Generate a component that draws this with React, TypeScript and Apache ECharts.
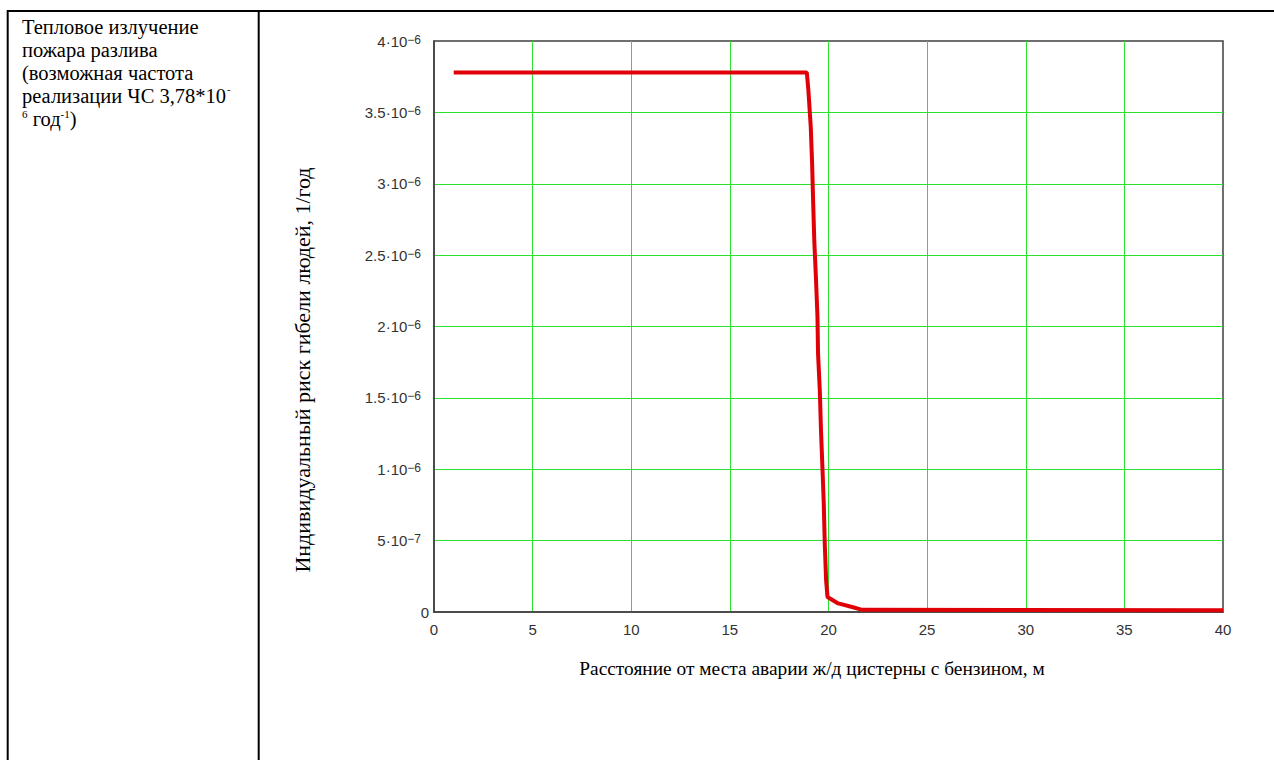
import React, { useEffect, useRef } from "react";
import * as echarts from "echarts";

// Distance from the accident site, m
const distance = [1, 18.9, 18.98, 19.1, 19.17, 19.22, 19.28, 19.36, 19.44, 19.47, 19.56, 19.62, 19.69, 19.76, 19.81, 19.88, 19.95, 20.49, 21.2, 21.7, 40];
// Individual risk of fatality, 1/year
const risk = [3.78e-6, 3.78e-6, 3.655e-6, 3.4e-6, 3.14e-6, 2.88e-6, 2.6e-6, 2.35e-6, 2.07e-6, 1.81e-6, 1.55e-6, 1.27e-6, 1.02e-6, 7.6e-7, 4.8e-7, 2.2e-7, 1.05e-7, 6.0e-8, 3.5e-8, 1.5e-8, 1.2e-8];

// y tick labels: mantissa and exponent for ticks 0, 0.5e-6, ..., 4e-6
const yTickMantissa = ["0", "5", "1", "1.5", "2", "2.5", "3", "3.5", "4"];
const yTickExponent = ["", "−7", "−6", "−6", "−6", "−6", "−6", "−6", "−6"];

const yTitle = "Индивидуальный риск гибели людей, 1/год";
const xTitle = "Расстояние от места аварии ж/д цистерны с бензином, м";
const cellLines = ["Тепловое излучение", "пожара разлива", "(возможная частота", "реализации ЧС 3,78*10"];
const cellSup1 = "-";
const cellLast = ["6", " год", "-1", ")"]; // sup, normal, sup, normal

const tickFont = "'Liberation Sans', Arial, sans-serif";
const serif = "'Liberation Serif', 'Times New Roman', serif";

export default function App() {
  const ref = useRef<HTMLDivElement>(null);
  useEffect(() => {
    if (!ref.current) return;
    const chart = echarts.init(ref.current, null, { renderer: "svg" });
    const data = distance.map((d, i) => [d, risk[i]]);

    const ctx = document.createElement("canvas").getContext("2d")!;
    const mainFont = "20.5px " + serif;
    const supFont = "11px " + serif;
    const measure = (t: string, f: string) => {
      ctx.font = f;
      return ctx.measureText(t).width;
    };
    const x0 = 22;
    const y0 = 27;
    const lh = 23;
    const cellGraphics: any[] = cellLines.map((t, i) => ({
      type: "text",
      x: x0,
      y: y0 + i * lh,
      style: { text: t, font: mainFont, fill: "#000", align: "left", verticalAlign: "middle" },
    }));
    cellGraphics.push({
      type: "text",
      x: x0 + measure(cellLines[3], mainFont) + 1,
      y: y0 + 3 * lh - 7,
      style: { text: cellSup1, font: supFont, fill: "#000", align: "left", verticalAlign: "middle" },
    });
    let cx = x0;
    cellLast.forEach((t, i) => {
      const sup = i % 2 === 0;
      const f = sup ? supFont : mainFont;
      cellGraphics.push({
        type: "text",
        x: cx,
        y: y0 + 4 * lh - (sup ? 5 : 0),
        style: { text: t, font: f, fill: "#000", align: "left", verticalAlign: "middle" },
      });
      cx += measure(t, f);
    });

    chart.setOption({
      animation: false,
      backgroundColor: "#ffffff",
      grid: {
        left: 434,
        top: 41,
        width: 789,
        height: 571,
        show: true,
        borderColor: "#404040",
        borderWidth: 1.5,
        backgroundColor: "transparent",
      },
      xAxis: {
        type: "value",
        min: 0,
        max: 40,
        interval: 5,
        axisLine: { show: true, lineStyle: { color: "#404040", width: 1.5 } },
        axisTick: { show: false },
        splitLine: { show: true, showMinLine: false, showMaxLine: false, lineStyle: { color: "#2ee02e", width: 1 } },
        axisLabel: {
          margin: 10,
          color: "#333333",
          fontFamily: tickFont,
          fontSize: 15,
          showMinLabel: true,
          showMaxLabel: true,
        },
      },
      yAxis: {
        type: "value",
        min: 0,
        max: 4e-6,
        interval: 5e-7,
        axisLine: { show: true, lineStyle: { color: "#404040", width: 1.5 } },
        axisTick: { show: false },
        splitLine: { show: true, showMinLine: false, showMaxLine: false, lineStyle: { color: "#2ee02e", width: 1 } },
        axisLabel: {
          margin: 5,
          color: "#333333",
          fontFamily: tickFont,
          fontSize: 15,
          formatter: (v: number) => {
            const i = Math.round(v / 5e-7);
            if (i === 0) return "{b|0}";
            return "{b|" + yTickMantissa[i] + "·10}{s|" + yTickExponent[i] + "}{g|}";
          },
          rich: {
            b: { fontFamily: tickFont, fontSize: 15, color: "#333333", lineHeight: 15, padding: [4, 0, 4, 0] },
            s: { fontFamily: tickFont, fontSize: 12, color: "#333333", lineHeight: 8, verticalAlign: "top" },
            g: { width: 8 },
          },
        },
      },
      series: [
        {
          type: "line",
          data,
          showSymbol: false,
          symbol: "none",
          lineStyle: { color: "#e00008", width: 4 },
          itemStyle: { color: "#e00008" },
          clip: false,
          z: 5,
        },
      ],
      graphic: [
        { type: "line", shape: { x1: 7, y1: 11, x2: 1274, y2: 11 }, style: { stroke: "#000", lineWidth: 2 } },
        { type: "line", shape: { x1: 7.7, y1: 10, x2: 7.7, y2: 760 }, style: { stroke: "#000", lineWidth: 2 } },
        { type: "line", shape: { x1: 258.7, y1: 10, x2: 258.7, y2: 760 }, style: { stroke: "#000", lineWidth: 2 } },
        ...cellGraphics,
        {
          type: "text",
          x: 302,
          y: 370,
          rotation: Math.PI / 2,
          style: {
            text: yTitle,
            font: "22px " + serif,
            fill: "#000",
            align: "center",
            verticalAlign: "middle",
          },
        },
        {
          type: "text",
          x: 812,
          y: 668,
          style: {
            text: xTitle,
            font: "19.4px " + serif,
            fill: "#000",
            align: "center",
            verticalAlign: "middle",
          },
        },
      ],
    });
    return () => chart.dispose();
  }, []);
  return <div ref={ref} style={{ position: "fixed", left: 0, top: 0, width: 1274, height: 760 }} />;
}
